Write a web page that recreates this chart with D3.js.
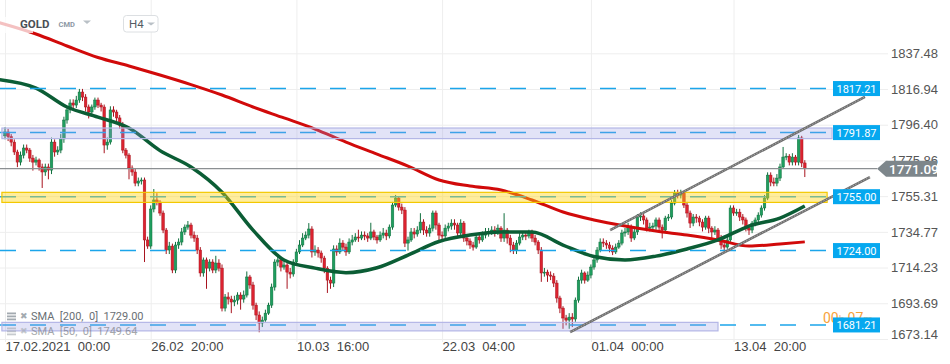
<!DOCTYPE html>
<html>
<head>
<meta charset="utf-8">
<script src="https://cdn.jsdelivr.net/npm/d3@7"></script>
<style>
body { margin: 0; background: #fff; }
svg { font-family: Roboto, "Open Sans", sans-serif; display: block; }
</style>
</head>
<body>
<div id="chart"></div>
<script>
// Set up SVG params
var svgWdt = 950;
var svgHgt = 364;
var plotBot = 342;
var plotRgt = 888;

// H4 candles, bar 0 = 17.02.2021 00:00 (open of bar i = close of bar i-1)
var firstOpen = 1790.0;
var closes = [
    1792.2, 1789.5, 1786.4, 1780.7, 1774.9, 1778.9, 1783.0, 1781.8, 1777.2, 1774.9,
    1776.1, 1772.1, 1769.2, 1772.1, 1770.3, 1786.4, 1780.7, 1781.8, 1788.2, 1799.1,
    1804.9, 1808.9, 1807.7, 1810.6, 1815.2, 1812.3, 1806.6, 1803.7, 1806.6, 1810.6,
    1807.7, 1806.6, 1784.7, 1786.4, 1804.9, 1803.7, 1800.3, 1796.2, 1781.8, 1778.9,
    1771.5, 1769.2, 1762.8, 1764.0, 1764.6, 1730.1, 1726.6, 1747.9, 1753.1, 1751.9,
    1745.6, 1735.8, 1724.3, 1726.6, 1712.8, 1727.2, 1728.9, 1734.7, 1737.5, 1738.7,
    1732.9, 1731.2, 1724.3, 1711.1, 1718.6, 1713.9, 1717.4, 1712.8, 1716.8, 1713.9,
    1690.9, 1697.3, 1696.1, 1694.4, 1695.5, 1698.4, 1696.1, 1698.4, 1708.8, 1704.2,
    1692.6, 1686.9, 1682.3, 1684.0, 1688.0, 1692.6, 1703.0, 1717.4, 1718.6, 1714.5,
    1715.7, 1711.6, 1710.5, 1717.4, 1723.2, 1727.2, 1731.2, 1732.9, 1736.4, 1723.2,
    1724.3, 1722.6, 1719.7, 1713.9, 1707.0, 1705.3, 1724.9, 1723.2, 1728.3, 1726.0,
    1723.2, 1728.9, 1730.1, 1731.8, 1731.2, 1732.9, 1732.4, 1731.2, 1734.7, 1731.8,
    1730.1, 1732.9, 1734.1, 1732.4, 1737.5, 1750.2, 1754.2, 1749.0, 1747.3, 1728.3,
    1730.1, 1734.7, 1733.5, 1735.8, 1740.4, 1735.8, 1734.1, 1736.9, 1745.6, 1738.7,
    1732.9, 1732.4, 1736.9, 1738.1, 1739.8, 1738.7, 1734.1, 1739.8, 1731.2, 1729.5,
    1727.2, 1726.0, 1731.8, 1730.1, 1732.9, 1734.1, 1734.7, 1735.8, 1734.7, 1736.9,
    1731.2, 1735.8, 1731.2, 1727.2, 1724.3, 1728.3, 1731.8, 1732.9, 1732.4, 1734.1,
    1731.2, 1728.9, 1724.3, 1711.1, 1711.6, 1709.9, 1709.3, 1705.3, 1696.7, 1690.9,
    1685.2, 1684.0, 1685.7, 1684.6, 1695.5, 1707.0, 1711.1, 1707.0, 1709.9, 1714.5,
    1718.6, 1724.3, 1728.9, 1728.3, 1727.2, 1725.4, 1723.2, 1726.0, 1728.3, 1734.1,
    1734.7, 1737.5, 1731.2, 1734.7, 1743.3, 1743.9, 1741.6, 1736.9, 1737.5, 1738.1,
    1741.6, 1737.5, 1735.8, 1742.7, 1743.3, 1751.3, 1757.1, 1755.9, 1757.1, 1750.2,
    1745.6, 1739.8, 1743.3, 1742.7, 1740.4, 1737.5, 1742.7, 1736.9, 1734.7, 1735.8,
    1731.2, 1727.2, 1726.0, 1730.1, 1748.5, 1745.6, 1746.1, 1743.3, 1741.6, 1736.9,
    1735.8, 1739.8, 1741.6, 1744.4, 1748.5, 1754.2, 1767.4, 1763.4, 1762.8, 1765.7,
    1772.1, 1777.8, 1778.3, 1774.9, 1777.8, 1774.9, 1788.8, 1774.4, 1771.09
];
var highs = [
    1795, 1794, 1791, 1788, 1782, 1781, 1785, 1785, 1783, 1779,
    1778, 1777, 1774, 1774, 1774, 1789, 1788, 1784, 1791, 1801,
    1807, 1811, 1811, 1813, 1817, 1817, 1814, 1808, 1808, 1812,
    1812, 1809, 1808, 1789, 1807, 1807, 1805, 1802, 1798, 1783,
    1780, 1773, 1771, 1766, 1766, 1766, 1732, 1750, 1759.4, 1757,
    1753, 1747, 1737, 1729, 1728, 1729, 1731, 1737, 1739, 1741,
    1740, 1735, 1733, 1726, 1720, 1720, 1719, 1719, 1721, 1719,
    1716, 1699, 1700, 1698, 1698, 1700, 1700, 1701, 1712, 1710,
    1706, 1694, 1689, 1686, 1690, 1694, 1705, 1719, 1721, 1720,
    1718, 1717, 1714, 1719, 1725, 1730, 1734, 1735, 1739.8, 1738,
    1727, 1726, 1724, 1721, 1715, 1709, 1727, 1727, 1731, 1730,
    1728, 1731, 1733, 1734, 1736, 1735, 1735, 1734, 1740, 1736,
    1733, 1735, 1737, 1736, 1739, 1752, 1756, 1755, 1751, 1749,
    1732, 1737, 1737, 1738, 1745.5, 1742, 1738, 1739, 1747, 1747,
    1740, 1735, 1739, 1740, 1742, 1742, 1740, 1742, 1741, 1733,
    1731, 1729, 1734, 1734, 1735, 1737, 1737, 1738, 1738, 1739,
    1738, 1745.5, 1737, 1733, 1729, 1730, 1734, 1735, 1735, 1736,
    1736, 1733, 1730, 1726, 1714, 1713, 1712, 1711, 1707, 1698,
    1692, 1687, 1688, 1688, 1697, 1709, 1713, 1712, 1712, 1716,
    1720, 1726, 1731, 1731, 1730, 1729, 1727, 1728, 1730, 1736,
    1737, 1740, 1739, 1737, 1745, 1746, 1745, 1743, 1740, 1740,
    1743, 1743, 1739, 1744, 1745, 1753, 1758.8, 1759, 1759, 1758,
    1752, 1747, 1745, 1745, 1744, 1742, 1744, 1744, 1738, 1738,
    1737, 1733, 1729, 1732, 1750, 1750, 1748, 1748, 1745, 1743,
    1739, 1741, 1743, 1746, 1750, 1756, 1769, 1769, 1766, 1768,
    1774, 1783.6, 1780, 1779.5, 1780, 1779, 1790.5, 1790, 1776
];
var lows = [
    1788, 1787, 1784, 1779, 1772, 1773, 1777, 1780, 1775, 1770,
    1773, 1770, 1760, 1767, 1765, 1768, 1778, 1779, 1780, 1786,
    1797, 1803, 1805, 1806, 1809, 1810, 1804, 1800, 1802, 1805,
    1806, 1804, 1780, 1782, 1785, 1801, 1798, 1794, 1780, 1777,
    1765, 1767, 1761, 1761, 1762, 1717.4, 1725, 1725, 1746, 1750,
    1744, 1734, 1722, 1722, 1711, 1711, 1725, 1727, 1733, 1736,
    1731, 1729, 1722, 1709, 1709, 1702, 1712, 1711, 1711, 1712,
    1689, 1689, 1693, 1688, 1692, 1693, 1690, 1694, 1697, 1702,
    1690, 1684, 1677, 1680, 1683, 1687, 1691, 1701, 1715, 1712,
    1713, 1702, 1708, 1709, 1716, 1722, 1726, 1730, 1731, 1720,
    1721, 1720, 1717, 1711, 1699.6, 1702, 1703, 1721, 1722, 1724,
    1721, 1722, 1727, 1729, 1729, 1730, 1730, 1729, 1730, 1730,
    1728, 1729, 1731, 1730, 1731, 1736, 1749, 1747, 1745, 1726,
    1724, 1729, 1731, 1732, 1734, 1733, 1732, 1732, 1735, 1736,
    1730, 1730, 1731, 1735, 1736, 1736, 1732, 1732, 1729, 1727,
    1725, 1724, 1725, 1728, 1729, 1731, 1732, 1733, 1732, 1733,
    1729, 1729, 1728, 1723, 1722, 1722, 1727, 1730, 1730, 1731,
    1729, 1727, 1722, 1706, 1709, 1706, 1707, 1703, 1694, 1688,
    1679, 1681, 1679, 1680, 1683, 1694, 1705, 1705, 1706, 1708,
    1713, 1717, 1723, 1726, 1725, 1723, 1721.4, 1722, 1725, 1727,
    1732, 1733, 1729, 1730, 1733, 1741, 1739, 1735, 1735, 1736,
    1736, 1735, 1731, 1734, 1741, 1742, 1750, 1754, 1754, 1748.5,
    1743, 1737, 1738, 1740, 1738, 1735, 1736, 1734, 1731, 1733,
    1729, 1725, 1724, 1725, 1729, 1744, 1744, 1741, 1739, 1735,
    1733, 1734, 1738, 1740, 1743, 1747, 1753, 1761, 1761, 1761,
    1764, 1771, 1776, 1773, 1773, 1773, 1773, 1772, 1766.3
];

// Moving averages, read at every 10th bar
var smaIdx = [-2, 10, 20, 30, 40, 50, 60, 70, 80, 90, 100, 110, 120, 130, 140, 150, 160, 170, 180, 190, 200, 210, 220, 230, 240, 250, 258];
var sma200 = [1855.2, 1848.6, 1841.7, 1835.1, 1830.2, 1825.0, 1819.5, 1813.5, 1806.6, 1800.3, 1793.9, 1786.4, 1779.5, 1772.6, 1764.6, 1761.1, 1758.8, 1753.1, 1746.2, 1741.6, 1738.1, 1735.2, 1732.9, 1730.1, 1726.6, 1727.8, 1729.0];
var sma50 = [1822.4, 1817.5, 1806.6, 1800.8, 1794.5, 1781.5, 1772.1, 1757.6, 1735.8, 1718.6, 1713.9, 1711.3, 1714.1, 1721.4, 1729.2, 1732.9, 1734.7, 1734.7, 1727.2, 1720.6, 1718.6, 1720.8, 1724.9, 1730.1, 1738.1, 1742.7, 1749.64];
var smaLbls = ["SMA  [200,  0]  1729.00", "SMA  [50,  0]  1749.64"];

// Horizontal levels and zones
var levelPrices = [1817.21, 1791.87, 1755.00, 1724.00, 1681.21];
var zoneTop = [1794.5, 1757.5, 1682.7];
var zoneBot = [1788.4, 1751.7, 1677.8];
var zoneEnd = [266.8, 265.2, 230];

// Trend channel (bar index, price)
var chanStart = [[195.2, 1735.8], [182.3, 1677.1]];
var chanEnd = [[277.4, 1812.4], [279, 1766.3]];

var lastPrice = 1771.09;

// Axis ticks
var yTicks = [1837.48, 1816.94, 1796.40, 1775.86, 1755.31, 1734.77, 1714.23, 1693.69, 1673.14];
var xTickIdx = [0, 47, 94, 141, 189, 235];
var xTickLbls = ["17.02.2021  00:00", "26.02  20:00", "10.03  16:00", "22.03  04:00", "01.04  00:00", "13.04  20:00"];

var svg = d3.select("#chart").append("svg")
    .attr("width", svgWdt)
    .attr("height", svgHgt);

var xScale = d3.scaleLinear().domain([0, 258]).range([5, 804.8]);
var yScale = d3.scaleLinear().domain([1671.4, 1868.15]).range([plotBot, 0]);

// Gridlines + price axis
var rgtAxis = svg.append("g")
    .attr("transform", `translate(${plotRgt}, 0)`)
    .call(d3.axisRight(yScale).tickValues(yTicks).tickSize(-plotRgt).tickPadding(3).tickFormat(d3.format(".2f")));
rgtAxis.select(".domain").remove();
rgtAxis.selectAll("line").attr("stroke", "#eeeeee");
rgtAxis.selectAll("text").attr("fill", "#555").style("font-size", "13px");
rgtAxis.selectAll("text").filter(d => d === 1673.14).attr("dy", "-0.05em");

var botAxis = svg.append("g")
    .attr("transform", `translate(0, ${plotBot})`)
    .call(d3.axisBottom(xScale).tickValues(xTickIdx).tickSize(-plotBot).tickPadding(0)
        .tickFormat((d, i) => xTickLbls[i]));
botAxis.select(".domain").remove();
botAxis.selectAll("line").attr("stroke", "#eeeeee");
botAxis.selectAll("text")
    .attr("text-anchor", "start")
    .attr("fill", "#444")
    .style("font-size", "13px")
    .style("white-space", "pre");

// Candles
var candles = closes.map((c, i) => ({
    i: i, o: i ? closes[i - 1] : firstOpen, c: c, h: highs[i], l: lows[i]
}));
var upFill = "#1f9e5f", upLine = "#12703f";
var dnFill = "#dc2330", dnLine = "#a8141f";

var candleGrp = svg.append("g");
candleGrp.selectAll(".wick").data(candles)
    .enter()
    .append("line")
        .attr("x1", d => xScale(d.i))
        .attr("x2", d => xScale(d.i))
        .attr("y1", d => yScale(d.h))
        .attr("y2", d => yScale(d.l))
        .attr("stroke", d => d.c >= d.o ? upLine : dnLine)
        .attr("stroke-width", 1);
candleGrp.selectAll(".body").data(candles)
    .enter()
    .append("rect")
        .attr("x", d => xScale(d.i) - 1.3)
        .attr("width", 2.6)
        .attr("y", d => yScale(Math.max(d.o, d.c)))
        .attr("height", d => Math.max(1, Math.abs(yScale(d.o) - yScale(d.c))))
        .attr("fill", d => d.c >= d.o ? upFill : dnFill)
        .attr("stroke", d => d.c >= d.o ? upLine : dnLine)
        .attr("stroke-width", 0.5);

// Moving averages
var smaLine = d3.line()
    .x(d => xScale(d[0]))
    .y(d => yScale(d[1]))
    .curve(d3.curveMonotoneX);
svg.append("path")
    .datum(smaIdx.map((k, i) => [k, sma200[i]]))
    .attr("d", smaLine)
    .attr("fill", "none")
    .attr("stroke", "#d10a0a")
    .attr("stroke-width", 3);
svg.append("path")
    .datum(smaIdx.map((k, i) => [k, sma50[i]]))
    .attr("d", smaLine)
    .attr("fill", "none")
    .attr("stroke", "#0b5d35")
    .attr("stroke-width", 3.5);

// Current price line
svg.append("line")
    .attr("x1", 0).attr("x2", 877)
    .attr("y1", yScale(lastPrice)).attr("y2", yScale(lastPrice))
    .attr("stroke", "#8b8f92")
    .attr("stroke-width", 1.2);

// Dashed levels
svg.selectAll(".lvl").data(levelPrices)
    .enter()
    .append("line")
        .attr("x1", 0).attr("x2", 828)
        .attr("y1", d => yScale(d)).attr("y2", d => yScale(d))
        .attr("stroke", "#1ba5ea")
        .attr("stroke-width", 1.5)
        .attr("stroke-dasharray", "16,14");

// Zones (drawn over the candles)
var zoneFill = ["rgba(150,155,225,0.28)", "rgba(255,212,20,0.42)", "rgba(150,155,225,0.28)"];
var zoneLine = ["#b3b6e6", "#f3c800", "#b3b6e6"];
svg.selectAll(".zone").data(zoneTop)
    .enter()
    .append("rect")
        .attr("x", xScale(-1))
        .attr("width", (d, i) => xScale(zoneEnd[i]) - xScale(-1))
        .attr("y", d => yScale(d))
        .attr("height", (d, i) => yScale(zoneBot[i]) - yScale(d))
        .attr("fill", (d, i) => zoneFill[i])
        .attr("stroke", (d, i) => zoneLine[i])
        .attr("stroke-width", 1.2);

// Channel lines
var chanGrp = svg.append("g");
chanStart.forEach((s, i) => {
    var e = chanEnd[i];
    chanGrp.append("line")
        .attr("x1", xScale(s[0])).attr("y1", yScale(s[1]))
        .attr("x2", xScale(e[0])).attr("y2", yScale(e[1]))
        .attr("stroke", "#6e6e6e").attr("stroke-width", 2.6);
    chanGrp.append("line")
        .attr("x1", xScale(s[0])).attr("y1", yScale(s[1]))
        .attr("x2", xScale(e[0])).attr("y2", yScale(e[1]))
        .attr("stroke", "#b8b8b8").attr("stroke-width", 0.8)
        .attr("stroke-dasharray", "1.5,1.5");
});

// Countdown text behind the 1681.21 tag
var cnt = svg.append("text")
    .attr("x", 823)
    .attr("y", yScale(1681.21) - 2)
    .attr("fill", "#f7a23a")
    .style("font-size", "14px");
cnt.append("tspan").text("00");
cnt.append("tspan").style("font-size", "11px").attr("fill", "#f9c27d").text("h ");
cnt.append("tspan").text("07");
cnt.append("tspan").style("font-size", "11px").attr("fill", "#f9c27d").text("m");

// Level price tags
var tagGrp = svg.selectAll(".tag").data(levelPrices)
    .enter()
    .append("g")
        .attr("transform", d => `translate(833, ${yScale(d)})`);
tagGrp.append("rect")
    .attr("x", 0).attr("y", -7.5)
    .attr("width", 47).attr("height", 15)
    .attr("fill", "#06a8ef");
tagGrp.append("text")
    .attr("x", 23.5).attr("dy", "0.36em")
    .attr("text-anchor", "middle")
    .attr("fill", "#fff")
    .style("font-size", "11px")
    .text(d => d3.format(".2f")(d));

// Last price tag
var lpY = yScale(lastPrice);
svg.append("path")
    .attr("d", `M877,${lpY} L886,${lpY - 8} L937,${lpY - 8} L937,${lpY + 8} L886,${lpY + 8} Z`)
    .attr("fill", "#7d868b");
svg.append("text")
    .attr("x", 889).attr("y", lpY).attr("dy", "0.36em")
    .attr("fill", "#fff")
    .style("font-size", "13.5px")
    .style("font-weight", "500")
    .text(d3.format(".2f")(lastPrice));

// Header
svg.append("rect")
    .attr("x", 0).attr("y", 17).attr("width", 33).attr("height", 16)
    .attr("fill", "#fff").attr("opacity", 0.75);
svg.append("text")
    .attr("x", 20).attr("y", 27.5)
    .attr("fill", "#4a4f55")
    .style("font-size", "11.5px").style("font-weight", "bold")
    .text("GOLD");
svg.append("text")
    .attr("x", 58.5).attr("y", 26.8)
    .attr("fill", "#8d98a4")
    .style("font-size", "7.5px").style("font-weight", "bold")
    .text("CMD");
svg.append("path").attr("d", "M83,20.5 L91,20.5 L87,24 Z").attr("fill", "#b9c0c6");
svg.append("rect")
    .attr("x", 123.5).attr("y", 15.5).attr("width", 34.5).attr("height", 16.5).attr("rx", 3)
    .attr("fill", "#fff").attr("stroke", "#dcdfe2");
svg.append("text")
    .attr("x", 129).attr("y", 28)
    .attr("fill", "#555c63")
    .style("font-size", "11.5px")
    .text("H4");
svg.append("path").attr("d", "M147,22.5 L155,22.5 L151,25.5 Z").attr("fill", "#b9c0c6");

// SMA legend (the lower zone is drawn over it in the reference, so draw first would hide it; keep faded)
var legGrp = svg.selectAll(".leg").data(smaLbls)
    .enter()
    .append("g")
        .attr("transform", (d, i) => `translate(0, ${316 + i * 15})`)
        .attr("opacity", (d, i) => i ? 0.6 : 1);
[-3.5, -0.5, 2.5].forEach(dy => {
    legGrp.append("rect")
        .attr("x", 7).attr("y", dy).attr("width", 9).attr("height", 1.8)
        .attr("fill", "#a3aab0");
});
legGrp.append("text")
    .attr("x", 19.5).attr("dy", "0.36em")
    .attr("fill", "#a3aab0")
    .style("font-size", "9px")
    .text("\u2716");
legGrp.append("text")
    .attr("x", 31).attr("dy", "0.36em")
    .attr("fill", "#6a6f74")
    .style("font-size", "11px")
    .style("white-space", "pre")
    .text(d => d);
</script>
</body>
</html>
